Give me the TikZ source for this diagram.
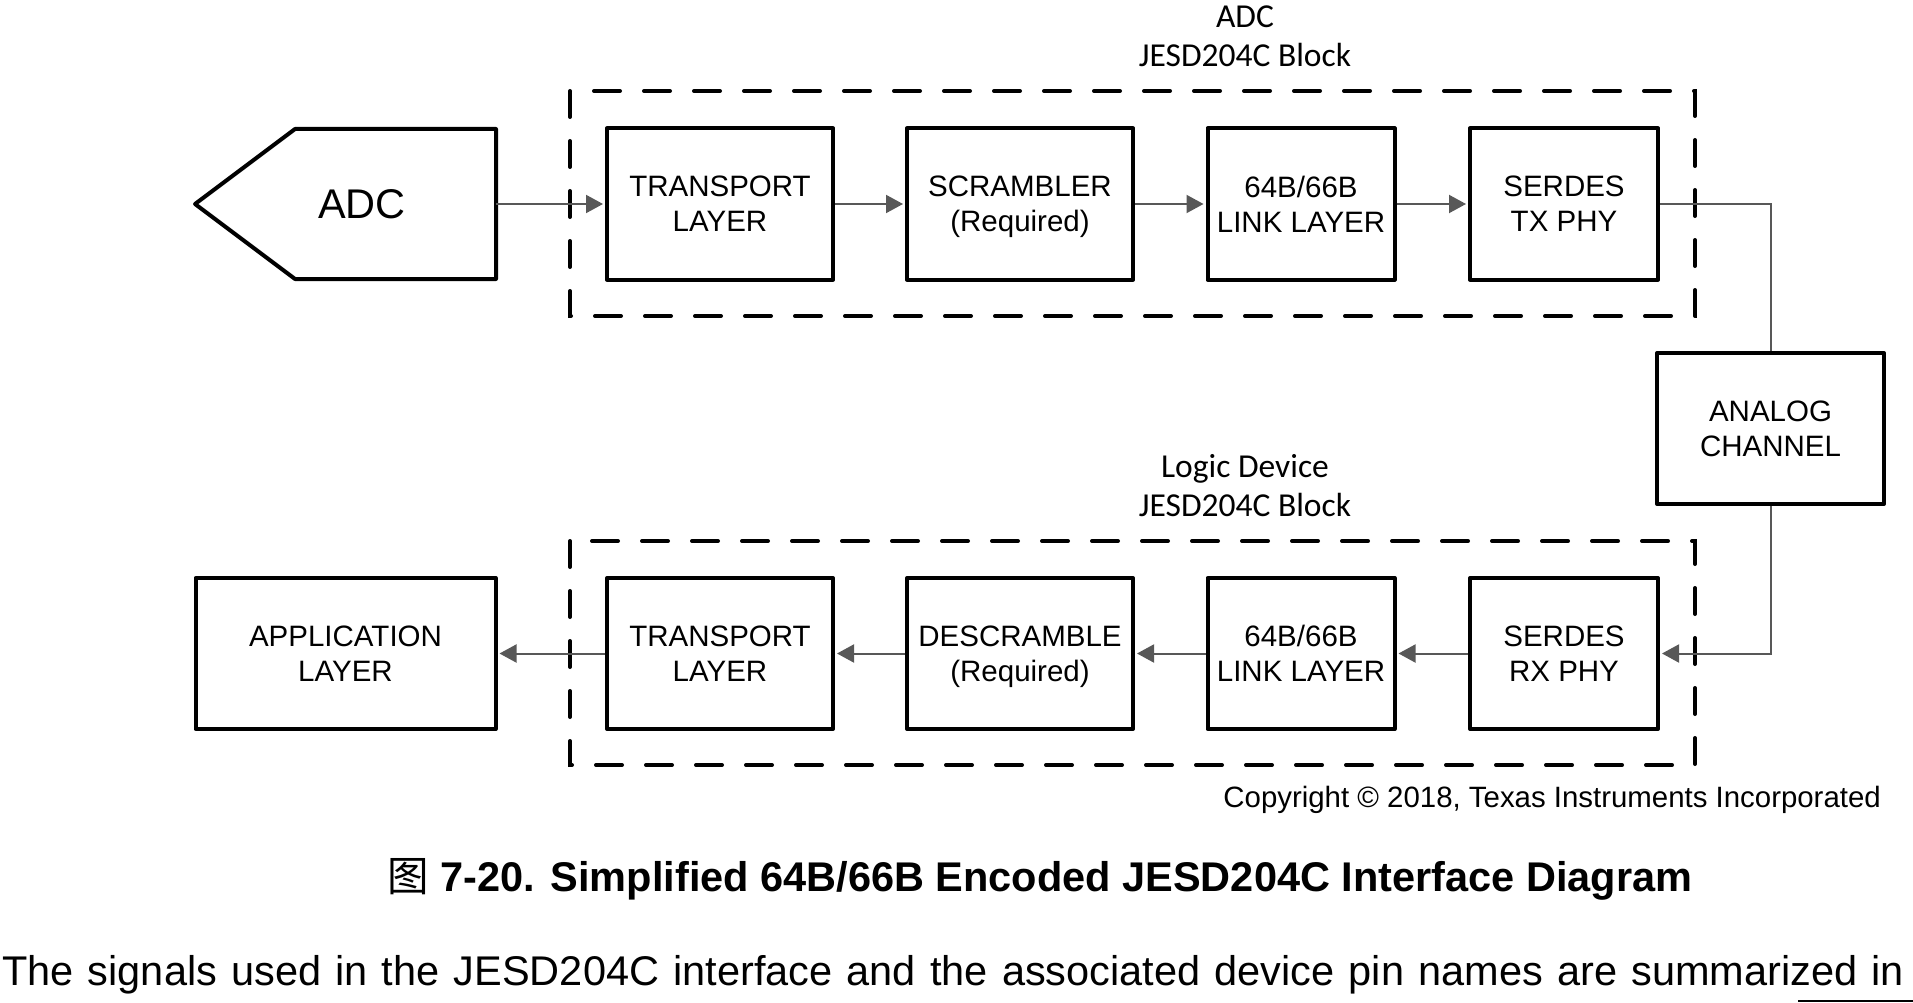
\documentclass[tikz,border=0pt]{standalone}
\usepackage{fontspec}
\setmainfont{Liberation Sans}
\newfontfamily\calibrifont{Carlito}
\newfontfamily\cjkfont{Noto Sans CJK SC}
\usetikzlibrary{arrows.meta}
\definecolor{wiregray}{RGB}{88,88,88}

\tikzset{
  block/.style={draw=black, line width=4pt, line join=round, inner sep=0pt,
    minimum width=#1, minimum height=151pt, align=center, text depth=0pt,
    font=\fontsize{29.5}{35}\selectfont},
  block/.default=226pt,
  wire/.style={draw=wiregray, line width=2pt},
  flow/.style={wire, shorten >=2pt, -{Triangle[length=17pt,width=18pt]}},
  group/.style={draw=black, line width=4pt, line cap=round, dash pattern=on 26pt off 24pt},
  tag/.style={font=\calibrifont\fontsize{33.5}{39}\selectfont, align=center, inner sep=0pt},
}

\begin{document}
\begin{tikzpicture}[x=1pt,y=-1pt]
        \useasboundingbox (0,0) rectangle (1913,1003);

        % ---- dashed JESD204C blocks ---------------------
        \draw[group] (570,91) rectangle (1695,316);
        \draw[group] (570,541) rectangle (1695,765);
        \node[tag] (adctag) at (1245,36) {ADC\\JESD204C Block};
        \node[tag] (logictag) at (1245,486) {Logic Device\\JESD204C Block};

        % ---- ADC source (arrow shaped) ------------------
        \draw[line width=4pt, line join=round]
          (195,204) -- (295,129) -- (496,129) -- (496,279) -- (295,279) -- cycle;
        \node[font=\fontsize{41.5}{48}\selectfont, text depth=0pt] (adc) at (362,204) {ADC};
        \coordinate (adcout) at (496,204);

        % ---- transmit chain -----------------------------
        \node[block] (tptx) at (720,204) {TRANSPORT\\LAYER};
        \node[block] (scr) at (1020,204) {SCRAMBLER\\(Required)};
        \node[block=187pt] (lnktx) at (1301,204) {64B/66B\\LINK LAYER};
        \node[block=188pt] (sertx) at (1564,204) {SERDES\\TX PHY};

        % ---- channel ------------------------------------
        \node[block=227pt] (analog) at (1770.5,428.5) {ANALOG\\CHANNEL};

        % ---- receive chain ------------------------------
        \node[block=188pt] (serrx) at (1564,653.5) {SERDES\\RX PHY};
        \node[block=187pt] (lnkrx) at (1301,653.5) {64B/66B\\LINK LAYER};
        \node[block] (dscr) at (1020,653.5) {DESCRAMBLE\\(Required)};
        \node[block] (tprx) at (720,653.5) {TRANSPORT\\LAYER};
        \node[block=300pt] (app) at (345.5,653.5) {APPLICATION\\LAYER};

        % ---- connections --------------------------------
        \draw[flow] (adcout) -- (tptx.west);
        \draw[flow] (tptx.east) -- (scr.west);
        \draw[flow] (scr.east) -- (lnktx.west);
        \draw[flow] (lnktx.east) -- (sertx.west);
        \draw[wire] (sertx.east) -| (analog.north);
        \draw[flow] (analog.south) |- (serrx.east);
        \draw[flow] (serrx.west) -- (lnkrx.east);
        \draw[flow] (lnkrx.west) -- (dscr.east);
        \draw[flow] (dscr.west) -- (tprx.east);
        \draw[flow] (tprx.west) -- (app.east);

        % ---- page text around the figure ----------------
        \node[anchor=base east, inner sep=0pt, font=\fontsize{29.4}{35}\selectfont] (copyr)
          at (1881,807) {Copyright © 2018, Texas Instruments Incorporated};
        \node[anchor=base, inner sep=0pt, font=\bfseries\fontsize{41.5}{48}\selectfont] (caption)
          at (1040,891) {{\cjkfont\mdseries 图} 7-20. Simplified 64B/66B Encoded JESD204C Interface Diagram};
        \node[anchor=base west, inner sep=0pt, font=\fontsize{41.5}{48}\selectfont] (bodytext)
          at (2,985) {\makebox[1902pt][s]{The signals used in the JESD204C interface and the associated device pin names are summarized in}};
        \draw[line width=2pt] (1798,1001) -- (1913,1001);
    \end{tikzpicture}
\end{document}
